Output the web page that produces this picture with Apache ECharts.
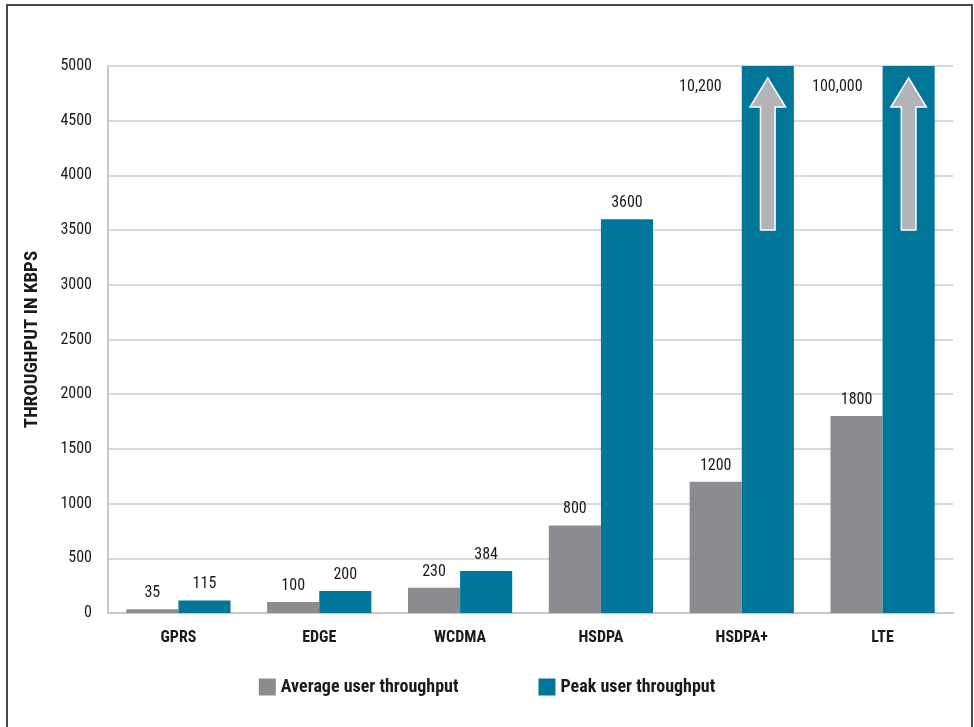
<!DOCTYPE html>
<html>
<head>
<meta charset="utf-8">
<script src="https://cdn.jsdelivr.net/npm/echarts@6/dist/echarts.min.js"></script>
<style>
  html, body { margin: 0; padding: 0; background: #fff; }
  #chart { width: 974px; height: 727px; }
</style>
</head>
<body>
<div id="chart"></div>
<script>
const categories = ["GPRS", "EDGE", "WCDMA", "HSDPA", "HSDPA+", "LTE"];
const averageThroughput = [35, 100, 230, 800, 1200, 1800];
const peakThroughput = [115, 200, 384, 3600, 10200, 100000];
const yTicks = [0, 500, 1000, 1500, 2000, 2500, 3000, 3500, 4000, 4500, 5000];
const yMax = 5000;
// arrows drawn inside the bars that run off the chart: [category, from, to]
const arrows = [[4, 3500, 4890], [5, 3500, 4890]];

const font = '"Liberation Sans Narrow", "Roboto Condensed", "DejaVu Sans Condensed", sans-serif';
const gray = "#8b8c90";
const teal = "#007799";
const catGap = 0.26;

const chart = echarts.init(document.getElementById("chart"));

const option = {
  animation: false,
  textStyle: { fontFamily: font },
  graphic: [{
    type: "rect",
    shape: { x: 7, y: 5, width: 965, height: 740 },
    style: { fill: "none", stroke: "#4a4a4a", lineWidth: 2 },
    silent: true
  }],
  grid: { left: 108, right: 21, top: 66, bottom: 114 },
  legend: {
    bottom: 26,
    left: "center",
    itemWidth: 17,
    itemHeight: 17,
    itemGap: 80,
    icon: "rect",
    textStyle: { fontFamily: font, fontSize: 18, fontWeight: "bold", color: "#1a1a1a" },
    data: ["Average user throughput", "Peak user throughput"]
  },
  xAxis: {
    type: "category",
    data: categories,
    axisLine: { lineStyle: { color: "#c8c8c8", width: 2 } },
    axisTick: { show: false },
    axisLabel: { margin: 17, fontSize: 16, fontWeight: "bold", color: "#1a1a1a", fontFamily: font }
  },
  yAxis: {
    type: "value",
    min: 0,
    max: yMax,
    interval: 500,
    name: "THROUGHPUT IN KBPS",
    nameLocation: "middle",
    nameGap: 66,
    nameTextStyle: { fontSize: 19, fontWeight: "bold", color: "#1a1a1a", fontFamily: font },
    axisLine: { show: true, lineStyle: { color: "#c8c8c8", width: 2 } },
    axisTick: { show: false },
    axisLabel: {
      margin: 16, fontSize: 16, color: "#1a1a1a", fontFamily: font,
      formatter: v => (yTicks.indexOf(v) >= 0 ? String(v) : "")
    },
    splitLine: { lineStyle: { color: "#cdcdcd", width: 1.5 } }
  },
  series: [
    {
      name: "Average user throughput",
      type: "bar",
      barGap: "0%",
      barCategoryGap: (catGap * 100) + "%",
      itemStyle: { color: gray },
      label: {
        show: true, position: "top", distance: 8,
        fontSize: 16, color: "#1a1a1a", fontFamily: font
      },
      data: averageThroughput
    },
    {
      name: "Peak user throughput",
      type: "bar",
      barGap: "0%",
      barCategoryGap: (catGap * 100) + "%",
      itemStyle: { color: teal },
      data: peakThroughput.map(v => {
        if (v <= yMax) {
          return {
            value: v,
            label: { show: true, position: "top", distance: 8, fontSize: 16, color: "#1a1a1a", fontFamily: font }
          };
        }
        return {
          value: yMax,
          label: {
            show: true, position: [-20, 13], align: "right", verticalAlign: "top",
            fontSize: 16, color: "#1a1a1a", fontFamily: font,
            formatter: () => v.toLocaleString("en-US")
          }
        };
      })
    },
    {
      type: "custom",
      z: 10,
      silent: true,
      renderItem: (params, api) => {
        const cat = api.value(0);
        const bottom = api.coord([cat, api.value(1)]);
        const top = api.coord([cat, api.value(2)]);
        const cw = api.size([1, 0])[0];
        const bw = cw * (1 - catGap) / 2;
        const cx = bottom[0] + bw / 2;
        const shaft = bw * 0.14;
        const head = bw * 0.34;
        const headH = 29;
        const y0 = bottom[1];
        const y1 = top[1];
        return {
          type: "polygon",
          shape: {
            points: [
              [cx - shaft, y0], [cx - shaft, y1 + headH], [cx - head, y1 + headH],
              [cx, y1], [cx + head, y1 + headH], [cx + shaft, y1 + headH], [cx + shaft, y0]
            ]
          },
          style: { fill: "#b2b4b7", stroke: "#ffffff", lineWidth: 1.5 }
        };
      },
      encode: { x: 0, y: [1, 2] },
      data: arrows
    }
  ]
};

chart.setOption(option);
</script>
</body>
</html>
